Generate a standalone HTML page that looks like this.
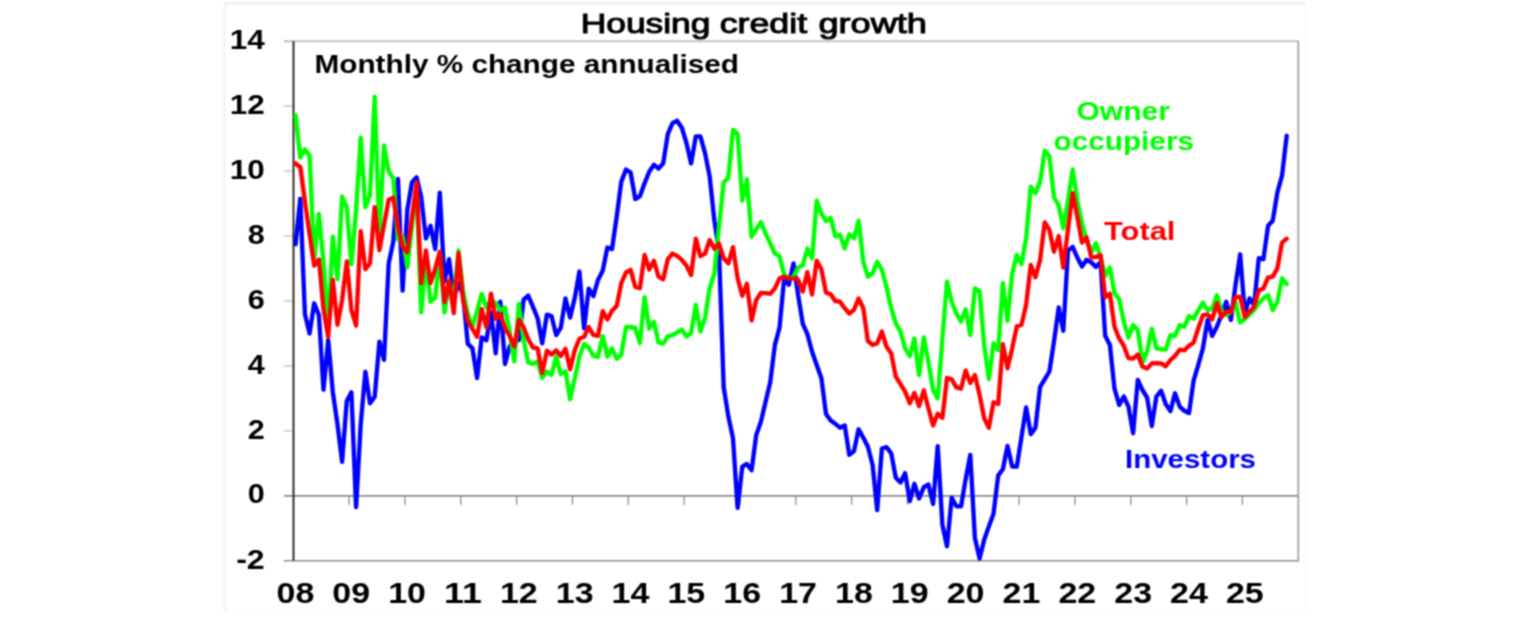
<!DOCTYPE html>
<html><head><meta charset="utf-8"><title>Housing credit growth</title>
<style>
html,body{margin:0;padding:0;background:#fff;}
body{width:1536px;height:630px;overflow:hidden;}
svg{display:block;}
text{font-family:"Liberation Sans",sans-serif;}
.b{font-weight:bold;}
</style></head><body>
<svg width="1536" height="630" viewBox="0 0 1536 630">
<defs><filter id="soft" filterUnits="userSpaceOnUse" x="0" y="0" width="1536" height="630" color-interpolation-filters="sRGB"><feConvolveMatrix order="3" kernelMatrix="1 2 1 2 4 2 1 2 1" edgeMode="duplicate" preserveAlpha="true"/></filter></defs>
<g filter="url(#soft)">
<rect x="0" y="0" width="1536" height="630" fill="#ffffff"/>
<line x1="224" y1="3.3" x2="1306.3" y2="3.3" stroke="#e8e8e8" stroke-width="1.7"/>
<line x1="224.6" y1="3" x2="224.6" y2="611.5" stroke="#eeeeee" stroke-width="1.5"/>
<line x1="1306" y1="3" x2="1306" y2="611.5" stroke="#f9f9f9" stroke-width="1.4"/>
<line x1="224" y1="611.2" x2="1306.3" y2="611.2" stroke="#f9f9f9" stroke-width="1.6"/>

<line x1="283.7" y1="430.9" x2="293.5" y2="430.9" stroke="#c4c4c4" stroke-width="1.4"/>
<line x1="283.7" y1="366.0" x2="293.5" y2="366.0" stroke="#c4c4c4" stroke-width="1.4"/>
<line x1="283.7" y1="301.0" x2="293.5" y2="301.0" stroke="#c4c4c4" stroke-width="1.4"/>
<line x1="283.7" y1="236.1" x2="293.5" y2="236.1" stroke="#c4c4c4" stroke-width="1.4"/>
<line x1="283.7" y1="171.2" x2="293.5" y2="171.2" stroke="#c4c4c4" stroke-width="1.4"/>
<line x1="283.7" y1="106.2" x2="293.5" y2="106.2" stroke="#c4c4c4" stroke-width="1.4"/>
<line x1="283.7" y1="41.3" x2="1299.1" y2="41.3" stroke="#c2c2c2" stroke-width="2"/>
<line x1="1298.3" y1="41.3" x2="1298.3" y2="561.5999999999999" stroke="#9a9a9a" stroke-width="1.6"/>
<line x1="283.7" y1="560.8" x2="1298.3" y2="560.8" stroke="#8c8c8c" stroke-width="1.6"/>
<line x1="283.7" y1="495.9" x2="1298.3" y2="495.9" stroke="#8c8c8c" stroke-width="1.6"/>
<line x1="349.1" y1="495.9" x2="349.1" y2="504.9" stroke="#8c8c8c" stroke-width="1.3"/>
<line x1="405.0" y1="495.9" x2="405.0" y2="504.9" stroke="#8c8c8c" stroke-width="1.3"/>
<line x1="460.8" y1="495.9" x2="460.8" y2="504.9" stroke="#8c8c8c" stroke-width="1.3"/>
<line x1="516.6" y1="495.9" x2="516.6" y2="504.9" stroke="#8c8c8c" stroke-width="1.3"/>
<line x1="572.5" y1="495.9" x2="572.5" y2="504.9" stroke="#8c8c8c" stroke-width="1.3"/>
<line x1="628.3" y1="495.9" x2="628.3" y2="504.9" stroke="#8c8c8c" stroke-width="1.3"/>
<line x1="684.1" y1="495.9" x2="684.1" y2="504.9" stroke="#8c8c8c" stroke-width="1.3"/>
<line x1="739.9" y1="495.9" x2="739.9" y2="504.9" stroke="#8c8c8c" stroke-width="1.3"/>
<line x1="795.8" y1="495.9" x2="795.8" y2="504.9" stroke="#8c8c8c" stroke-width="1.3"/>
<line x1="851.6" y1="495.9" x2="851.6" y2="504.9" stroke="#8c8c8c" stroke-width="1.3"/>
<line x1="907.4" y1="495.9" x2="907.4" y2="504.9" stroke="#8c8c8c" stroke-width="1.3"/>
<line x1="963.3" y1="495.9" x2="963.3" y2="504.9" stroke="#8c8c8c" stroke-width="1.3"/>
<line x1="1019.1" y1="495.9" x2="1019.1" y2="504.9" stroke="#8c8c8c" stroke-width="1.3"/>
<line x1="1074.9" y1="495.9" x2="1074.9" y2="504.9" stroke="#8c8c8c" stroke-width="1.3"/>
<line x1="1130.8" y1="495.9" x2="1130.8" y2="504.9" stroke="#8c8c8c" stroke-width="1.3"/>
<line x1="1186.6" y1="495.9" x2="1186.6" y2="504.9" stroke="#8c8c8c" stroke-width="1.3"/>
<line x1="1242.4" y1="495.9" x2="1242.4" y2="504.9" stroke="#8c8c8c" stroke-width="1.3"/>
<line x1="293.5" y1="41.3" x2="293.5" y2="560.8" stroke="#262626" stroke-width="1.9"/>
<polyline points="295.6,244.2 300.3,198.8 304.9,314.0 309.6,333.5 314.2,303.3 318.9,315.0 323.5,389.7 328.2,340.0 332.8,392.0 337.5,424.4 342.1,461.8 346.8,401.0 351.4,392.3 356.1,507.2 360.7,424.4 365.4,371.8 370.0,403.3 374.7,396.8 379.4,341.6 384.0,359.8 388.7,263.4 393.3,241.6 398.0,179.0 402.6,290.6 407.3,210.1 411.9,182.5 416.6,177.3 421.2,197.1 425.9,238.4 430.5,225.7 435.2,249.1 439.8,192.6 444.5,281.6 449.1,259.2 453.8,297.8 458.5,283.2 463.1,294.9 467.8,343.9 472.4,348.1 477.1,378.0 481.7,337.4 486.4,340.3 491.0,312.4 495.7,353.3 500.3,301.7 505.0,364.0 509.6,346.5 514.3,341.6 518.9,340.0 523.6,299.7 528.2,295.5 532.9,306.6 537.6,318.2 542.2,343.3 546.9,314.7 551.5,316.0 556.2,335.1 560.8,327.7 565.5,298.4 570.1,317.6 574.8,297.8 579.4,271.5 584.1,328.3 588.7,288.7 593.4,296.2 598.0,279.9 602.7,270.8 607.4,247.5 612.0,249.1 616.7,216.6 621.3,181.6 626.0,169.5 630.6,172.5 635.3,199.1 639.9,196.2 644.6,183.2 649.2,171.8 653.9,164.7 658.5,168.6 663.2,163.4 667.8,134.1 672.5,123.1 677.1,120.8 681.8,127.7 686.5,143.2 691.1,163.4 695.8,136.4 700.4,136.4 705.1,153.3 709.7,176.7 714.4,220.8 719.0,250.1 723.7,387.4 728.3,416.0 733.0,438.4 737.6,507.9 742.3,466.6 746.9,464.0 751.6,470.2 756.2,435.1 760.9,421.8 765.6,401.7 770.2,382.2 774.9,344.9 779.5,327.7 784.2,278.3 788.8,284.8 793.5,263.4 798.1,294.9 802.8,323.8 807.4,334.2 812.1,351.7 816.7,365.0 821.4,378.3 826.0,414.0 830.7,420.5 835.3,423.8 840.0,427.7 844.7,425.4 849.3,454.9 854.0,451.1 858.6,429.3 863.3,437.7 867.9,446.8 872.6,465.0 877.2,510.1 881.9,448.5 886.5,447.2 891.2,453.3 895.8,477.7 900.5,482.5 905.1,473.1 909.8,501.1 914.4,483.8 919.1,498.5 923.8,487.1 928.4,484.5 933.1,504.0 937.7,446.2 942.4,524.8 947.0,546.2 951.7,497.8 956.3,506.3 961.0,506.3 965.6,479.6 970.3,454.9 974.9,538.1 979.6,558.5 984.2,539.7 988.9,526.4 993.5,513.7 998.2,475.4 1002.9,469.2 1007.5,445.9 1012.2,466.6 1016.8,466.6 1021.5,436.8 1026.1,407.5 1030.8,434.2 1035.4,427.7 1040.1,386.8 1044.7,379.3 1049.4,371.5 1054.0,341.6 1058.7,307.5 1063.3,330.9 1068.0,250.7 1072.7,246.8 1077.3,257.5 1082.0,266.6 1086.6,259.8 1091.3,262.4 1095.9,266.9 1100.6,262.1 1105.2,335.8 1109.9,344.9 1114.5,388.7 1119.2,404.9 1123.8,396.5 1128.5,406.6 1133.1,433.2 1137.8,379.9 1142.4,390.0 1147.1,397.5 1151.8,426.0 1156.4,396.5 1161.1,390.7 1165.7,404.0 1170.4,411.1 1175.0,393.3 1179.7,406.6 1184.3,410.8 1189.0,413.1 1193.6,380.6 1198.3,365.0 1202.9,348.4 1207.6,319.9 1212.2,335.8 1216.9,326.7 1221.5,315.0 1226.2,301.7 1230.9,319.9 1235.5,285.1 1240.2,254.3 1244.8,313.4 1249.5,298.4 1254.1,304.9 1258.8,258.2 1263.4,259.2 1268.1,225.7 1272.7,220.8 1277.4,192.3 1282.0,175.7 1286.7,135.8" fill="none" stroke="#0000ff" stroke-width="4.35" stroke-linejoin="round" stroke-linecap="round"/>
<polyline points="295.6,115.3 300.3,157.5 304.9,149.4 309.6,155.6 314.2,258.8 318.9,214.0 323.5,262.1 328.2,327.0 332.8,236.7 337.5,279.0 342.1,196.5 346.8,207.5 351.4,264.0 356.1,210.1 360.7,137.7 365.4,207.2 370.0,194.9 374.7,96.8 379.4,234.5 384.0,145.5 388.7,171.2 393.3,178.6 398.0,239.3 402.6,236.7 407.3,267.3 411.9,226.4 416.6,187.4 421.2,312.4 425.9,258.8 430.5,301.7 435.2,297.8 439.8,252.3 444.5,312.4 449.1,281.6 453.8,301.0 458.5,250.4 463.1,291.3 467.8,314.0 472.4,327.0 477.1,310.8 481.7,293.9 486.4,307.5 491.0,301.0 495.7,302.7 500.3,310.8 505.0,307.5 509.6,331.6 514.3,361.4 518.9,304.0 523.6,340.0 528.2,362.4 532.9,364.0 537.6,361.4 542.2,378.0 546.9,371.5 551.5,374.7 556.2,356.6 560.8,374.1 565.5,371.5 570.1,399.4 574.8,378.3 579.4,356.6 584.1,343.9 588.7,347.5 593.4,355.9 598.0,356.9 602.7,336.1 607.4,356.6 612.0,348.4 616.7,358.8 621.3,354.9 626.0,327.0 630.6,327.0 635.3,328.0 639.9,342.9 644.6,297.1 649.2,328.6 653.9,321.8 658.5,342.6 663.2,343.6 667.8,336.4 672.5,335.1 677.1,332.5 681.8,329.6 686.5,336.4 691.1,332.9 695.8,304.9 700.4,331.6 705.1,317.6 709.7,288.1 714.4,273.4 719.0,226.7 723.7,182.5 728.3,177.7 733.0,129.9 737.6,133.8 742.3,200.7 746.9,179.3 751.6,236.7 756.2,229.3 760.9,222.1 765.6,233.5 770.2,243.2 774.9,253.6 779.5,256.2 784.2,275.1 788.8,278.3 793.5,276.7 798.1,267.6 802.8,265.3 807.4,248.4 812.1,258.2 816.7,200.7 821.4,213.4 826.0,221.2 830.7,217.9 835.3,236.1 840.0,234.8 844.7,248.4 849.3,234.2 854.0,238.4 858.6,220.8 863.3,261.8 867.9,276.7 872.6,273.4 877.2,261.8 881.9,269.9 886.5,286.8 891.2,308.2 895.8,323.1 900.5,331.6 905.1,348.4 909.8,356.2 914.4,338.4 919.1,375.1 923.8,337.4 928.4,361.8 933.1,390.0 937.7,398.4 942.4,338.4 947.0,281.6 951.7,301.7 956.3,313.4 961.0,321.5 965.6,309.2 970.3,335.1 974.9,288.4 979.6,291.3 984.2,344.9 988.9,379.0 993.5,343.3 998.2,350.1 1002.9,283.2 1007.5,320.8 1012.2,273.4 1016.8,254.9 1021.5,264.0 1026.1,238.4 1030.8,186.7 1035.4,193.2 1040.1,181.6 1044.7,150.7 1049.4,156.2 1054.0,197.5 1058.7,205.3 1063.3,228.3 1068.0,200.4 1072.7,169.5 1077.3,200.4 1082.0,223.4 1086.6,240.0 1091.3,252.3 1095.9,243.2 1100.6,256.6 1105.2,275.7 1109.9,267.6 1114.5,293.2 1119.2,299.1 1123.8,321.8 1128.5,337.4 1133.1,325.1 1137.8,329.9 1142.4,362.4 1147.1,351.7 1151.8,329.0 1156.4,348.4 1161.1,349.1 1165.7,349.7 1170.4,335.1 1175.0,335.8 1179.7,325.1 1184.3,326.7 1189.0,316.0 1193.6,318.6 1198.3,310.1 1202.9,302.7 1207.6,310.1 1212.2,308.5 1216.9,295.2 1221.5,310.8 1226.2,315.0 1230.9,312.4 1235.5,302.7 1240.2,322.5 1244.8,319.2 1249.5,314.4 1254.1,310.1 1258.8,303.3 1263.4,298.4 1268.1,295.2 1272.7,310.1 1277.4,301.7 1282.0,278.3 1286.7,284.2" fill="none" stroke="#00ff00" stroke-width="4.35" stroke-linejoin="round" stroke-linecap="round"/>
<polyline points="295.6,163.4 300.3,166.9 304.9,201.4 309.6,234.5 314.2,265.6 318.9,259.5 323.5,309.2 328.2,336.8 332.8,279.9 337.5,324.7 342.1,300.1 346.8,261.4 351.4,309.8 356.1,325.7 360.7,231.2 365.4,269.2 370.0,263.4 374.7,207.2 379.4,250.1 384.0,225.1 388.7,199.7 393.3,197.8 398.0,226.7 402.6,246.5 407.3,252.3 411.9,218.2 416.6,182.2 421.2,283.2 425.9,250.4 430.5,283.2 435.2,268.6 439.8,251.7 444.5,302.3 449.1,280.6 453.8,313.1 458.5,253.3 463.1,299.7 467.8,320.8 472.4,329.0 477.1,336.8 481.7,309.2 486.4,327.3 491.0,293.6 495.7,318.9 500.3,314.0 505.0,328.3 509.6,335.8 514.3,346.5 518.9,319.9 523.6,327.3 528.2,339.0 532.9,347.5 537.6,348.4 542.2,373.1 546.9,350.7 551.5,354.6 556.2,350.4 560.8,355.9 565.5,348.8 570.1,369.2 574.8,350.1 579.4,338.7 584.1,336.8 588.7,327.0 593.4,334.8 598.0,335.8 602.7,311.1 607.4,319.5 612.0,310.8 616.7,305.9 621.3,283.2 626.0,272.5 630.6,269.9 635.3,286.8 639.9,288.1 644.6,254.9 649.2,269.5 653.9,260.8 658.5,276.7 663.2,279.3 667.8,259.2 672.5,253.6 677.1,255.9 681.8,259.8 686.5,265.6 691.1,275.1 695.8,238.7 700.4,256.2 705.1,253.6 709.7,240.0 714.4,248.8 719.0,243.6 723.7,258.2 728.3,263.4 733.0,247.1 737.6,278.3 742.3,295.8 746.9,283.8 751.6,320.5 756.2,300.1 760.9,292.9 765.6,293.2 770.2,293.9 774.9,288.4 779.5,278.3 784.2,276.7 788.8,278.3 793.5,278.3 798.1,279.9 802.8,291.6 807.4,272.1 812.1,294.5 816.7,260.8 821.4,269.2 826.0,292.6 830.7,294.2 835.3,301.0 840.0,301.7 844.7,308.2 849.3,313.7 854.0,309.8 858.6,298.4 863.3,308.2 867.9,341.0 872.6,344.9 877.2,343.3 881.9,331.6 886.5,346.8 891.2,353.3 895.8,376.7 900.5,384.2 905.1,391.6 909.8,403.3 914.4,392.9 919.1,405.9 923.8,390.3 928.4,408.2 933.1,425.4 937.7,413.7 942.4,417.9 947.0,378.0 951.7,379.3 956.3,387.4 961.0,388.7 965.6,370.5 970.3,382.9 974.9,375.1 979.6,394.9 984.2,418.3 988.9,427.7 993.5,402.3 998.2,404.0 1002.9,344.2 1007.5,368.3 1012.2,348.4 1016.8,326.4 1021.5,324.7 1026.1,304.9 1030.8,265.0 1035.4,277.3 1040.1,260.1 1044.7,222.5 1049.4,229.9 1054.0,251.7 1058.7,236.1 1063.3,267.6 1068.0,229.6 1072.7,193.2 1077.3,216.6 1082.0,242.6 1086.6,237.4 1091.3,257.5 1095.9,256.9 1100.6,255.3 1105.2,297.1 1109.9,293.9 1114.5,326.7 1119.2,338.4 1123.8,345.8 1128.5,358.2 1133.1,358.5 1137.8,354.6 1142.4,366.6 1147.1,368.6 1151.8,363.4 1156.4,363.1 1161.1,363.4 1165.7,366.3 1170.4,360.1 1175.0,355.9 1179.7,349.7 1184.3,350.4 1189.0,345.8 1193.6,342.6 1198.3,328.3 1202.9,315.3 1207.6,314.4 1212.2,319.5 1216.9,303.3 1221.5,317.0 1226.2,311.4 1230.9,312.4 1235.5,296.8 1240.2,296.8 1244.8,317.0 1249.5,311.8 1254.1,306.6 1258.8,290.3 1263.4,288.4 1268.1,277.3 1272.7,276.7 1277.4,268.2 1282.0,242.6 1286.7,238.7" fill="none" stroke="#ff0000" stroke-width="4.35" stroke-linejoin="round" stroke-linecap="round"/>
<text x="580.6999999999999" y="32.6" font-size="27.8" class="" fill="#000" text-anchor="start" textLength="129.80000000000004" lengthAdjust="spacingAndGlyphs" stroke="#000" stroke-width="1.0">Housing</text>
<text x="719.6999999999999" y="32.6" font-size="27.8" class="" fill="#000" text-anchor="start" textLength="87.40000000000006" lengthAdjust="spacingAndGlyphs" stroke="#000" stroke-width="1.0">credit</text>
<text x="818.4" y="32.6" font-size="27.8" class="" fill="#000" text-anchor="start" textLength="108.49999999999997" lengthAdjust="spacingAndGlyphs" stroke="#000" stroke-width="1.0">growth</text>
<text x="314.5" y="73" font-size="26" class="b" fill="#000" text-anchor="start" textLength="424.5" lengthAdjust="spacingAndGlyphs">Monthly % change annualised</text>
<text x="236.2" y="569.4" font-size="28.5" class="b" fill="#000" text-anchor="start" textLength="28.5" lengthAdjust="spacingAndGlyphs">-2</text>
<text x="247.7" y="503.46" font-size="28.5" class="b" fill="#000" text-anchor="start" textLength="17" lengthAdjust="spacingAndGlyphs">0</text>
<text x="247.7" y="438.52" font-size="28.5" class="b" fill="#000" text-anchor="start" textLength="17" lengthAdjust="spacingAndGlyphs">2</text>
<text x="247.7" y="373.58" font-size="28.5" class="b" fill="#000" text-anchor="start" textLength="17" lengthAdjust="spacingAndGlyphs">4</text>
<text x="247.7" y="308.64" font-size="28.5" class="b" fill="#000" text-anchor="start" textLength="17" lengthAdjust="spacingAndGlyphs">6</text>
<text x="247.7" y="243.69999999999996" font-size="28.5" class="b" fill="#000" text-anchor="start" textLength="17" lengthAdjust="spacingAndGlyphs">8</text>
<text x="229.7" y="178.75999999999996" font-size="28.5" class="b" fill="#000" text-anchor="start" textLength="35" lengthAdjust="spacingAndGlyphs">10</text>
<text x="229.7" y="113.81999999999996" font-size="28.5" class="b" fill="#000" text-anchor="start" textLength="35" lengthAdjust="spacingAndGlyphs">12</text>
<text x="229.7" y="48.879999999999974" font-size="28.5" class="b" fill="#000" text-anchor="start" textLength="35" lengthAdjust="spacingAndGlyphs">14</text>
<text x="276.5" y="603.2" font-size="29" class="b" fill="#000" text-anchor="start" textLength="37.8" lengthAdjust="spacingAndGlyphs">08</text>
<text x="332.35" y="603.2" font-size="29" class="b" fill="#000" text-anchor="start" textLength="37.8" lengthAdjust="spacingAndGlyphs">09</text>
<text x="388.2" y="603.2" font-size="29" class="b" fill="#000" text-anchor="start" textLength="37.8" lengthAdjust="spacingAndGlyphs">10</text>
<text x="444.05" y="603.2" font-size="29" class="b" fill="#000" text-anchor="start" textLength="37.8" lengthAdjust="spacingAndGlyphs">11</text>
<text x="499.9" y="603.2" font-size="29" class="b" fill="#000" text-anchor="start" textLength="37.8" lengthAdjust="spacingAndGlyphs">12</text>
<text x="555.75" y="603.2" font-size="29" class="b" fill="#000" text-anchor="start" textLength="37.8" lengthAdjust="spacingAndGlyphs">13</text>
<text x="611.6" y="603.2" font-size="29" class="b" fill="#000" text-anchor="start" textLength="37.8" lengthAdjust="spacingAndGlyphs">14</text>
<text x="667.4499999999999" y="603.2" font-size="29" class="b" fill="#000" text-anchor="start" textLength="37.8" lengthAdjust="spacingAndGlyphs">15</text>
<text x="723.3000000000001" y="603.2" font-size="29" class="b" fill="#000" text-anchor="start" textLength="37.8" lengthAdjust="spacingAndGlyphs">16</text>
<text x="779.15" y="603.2" font-size="29" class="b" fill="#000" text-anchor="start" textLength="37.8" lengthAdjust="spacingAndGlyphs">17</text>
<text x="835.0" y="603.2" font-size="29" class="b" fill="#000" text-anchor="start" textLength="37.8" lengthAdjust="spacingAndGlyphs">18</text>
<text x="890.85" y="603.2" font-size="29" class="b" fill="#000" text-anchor="start" textLength="37.8" lengthAdjust="spacingAndGlyphs">19</text>
<text x="946.7" y="603.2" font-size="29" class="b" fill="#000" text-anchor="start" textLength="37.8" lengthAdjust="spacingAndGlyphs">20</text>
<text x="1002.5500000000001" y="603.2" font-size="29" class="b" fill="#000" text-anchor="start" textLength="37.8" lengthAdjust="spacingAndGlyphs">21</text>
<text x="1058.3999999999999" y="603.2" font-size="29" class="b" fill="#000" text-anchor="start" textLength="37.8" lengthAdjust="spacingAndGlyphs">22</text>
<text x="1114.25" y="603.2" font-size="29" class="b" fill="#000" text-anchor="start" textLength="37.8" lengthAdjust="spacingAndGlyphs">23</text>
<text x="1170.1" y="603.2" font-size="29" class="b" fill="#000" text-anchor="start" textLength="37.8" lengthAdjust="spacingAndGlyphs">24</text>
<text x="1225.9499999999998" y="603.2" font-size="29" class="b" fill="#000" text-anchor="start" textLength="37.8" lengthAdjust="spacingAndGlyphs">25</text>
<text x="1076.5" y="120.0" font-size="25.5" class="b" fill="#00ff00" text-anchor="start" textLength="93.5" lengthAdjust="spacingAndGlyphs">Owner</text>
<text x="1053.5" y="149.5" font-size="25.5" class="b" fill="#00ff00" text-anchor="start" textLength="140.5" lengthAdjust="spacingAndGlyphs">occupiers</text>
<text x="1104.0" y="240" font-size="25.5" class="b" fill="#ff0000" text-anchor="start" textLength="71.4" lengthAdjust="spacingAndGlyphs">Total</text>
<text x="1125" y="467.9" font-size="26" class="b" fill="#0000ff" text-anchor="start" textLength="131" lengthAdjust="spacingAndGlyphs">Investors</text>
</g></svg></body></html>
